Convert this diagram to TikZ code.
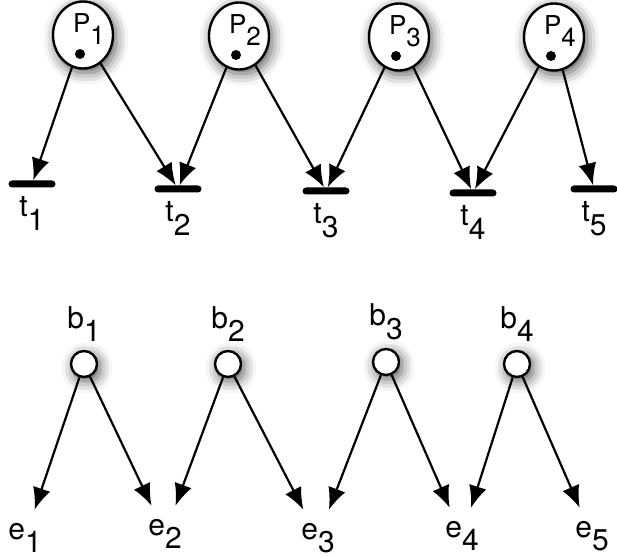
\documentclass[tikz,border=0pt]{standalone}
\usepackage{fontspec}
\setmainfont{TeX Gyre Heros}
\usetikzlibrary{shapes.geometric,arrows.meta,shadows.blur,calc}

\newcommand{\sub}[1]{\raisebox{-0.45em}{#1}}

\tikzset{
  glow/.style={blur shadow={shadow xshift=3bp, shadow yshift=-4bp,
      shadow blur radius=12bp, shadow blur extra rounding=4bp,
      shadow opacity=65}},
  place/.style={ellipse, draw, line width=2.4bp, fill=white, glow,
    minimum width=60bp, minimum height=67bp, inner sep=0},
  token/.style={circle, fill=black, minimum size=10bp, inner sep=0},
  trans/.style={fill=black, minimum width=47bp, minimum height=7bp,
    inner sep=0, rounded corners=3.5bp},
  cond/.style={circle, draw, line width=2.4bp, fill=white, glow,
    minimum size=26bp, inner sep=0},
  evt/.style={minimum height=56bp, inner sep=1bp},
  arc/.style={-{Latex[length=22bp,width=18bp]}, line width=2.2bp},
}

\begin{document}
\begin{tikzpicture}[x=1bp, y=-1bp, font=\fontsize{30bp}{33bp}\selectfont]
  \useasboundingbox (0,0) rectangle (617,558);
  % net
  \foreach \i/\x/\y in {1/83/35, 2/239/36, 3/399/37, 4/554/37} {
    \node[place] (p\i) at (\x,\y) {};
    \node[token] at ($(p\i)+(-3,19)$) {};
    \node[font=\fontsize{26bp}{28bp}\selectfont, inner sep=0] at ($(p\i)+(6,-6)$) {P\sub{\i}};
  }
  \foreach \i/\x/\y in {1/32/184, 2/178/189, 3/326/191, 4/473/193, 5/594/189}
    \node[trans, label={[label distance=9bp, inner sep=0]below:t\sub{\i}}] (t\i) at (\x,\y) {};
  \draw[arc] (p1) -- (t1);
  \draw[arc] (p1) -- (t2);
  \draw[arc] (p2) -- (t2);
  \draw[arc] (p2) -- (t3);
  \draw[arc] (p3) -- (t3);
  \draw[arc] (p3) -- (t4);
  \draw[arc] (p4) -- (t4);
  \draw[arc] (p4) -- (t5);
  % unfolding
  \foreach \i/\x/\y in {1/84/364, 2/228/364, 3/386/362, 4/517/364}
    \node[cond, label={[label distance=8bp, inner sep=0]above:b\sub{\i}}] (b\i) at (\x,\y) {};
  \foreach \i/\x/\y in {1/25/538, 2/165/534, 3/318/538, 4/462/536, 5/592/536}
    \node[evt] (e\i) at (\x,\y) {e\sub{\i}};
  \draw[arc] (b1) -- (e1);
  \draw[arc] (b1) -- (e2);
  \draw[arc] (b2) -- (e2);
  \draw[arc] (b2) -- (e3);
  \draw[arc] (b3) -- (e3);
  \draw[arc] (b3) -- (e4);
  \draw[arc] (b4) -- (e4);
  \draw[arc] (b4) -- (e5);
\end{tikzpicture}
\end{document}
